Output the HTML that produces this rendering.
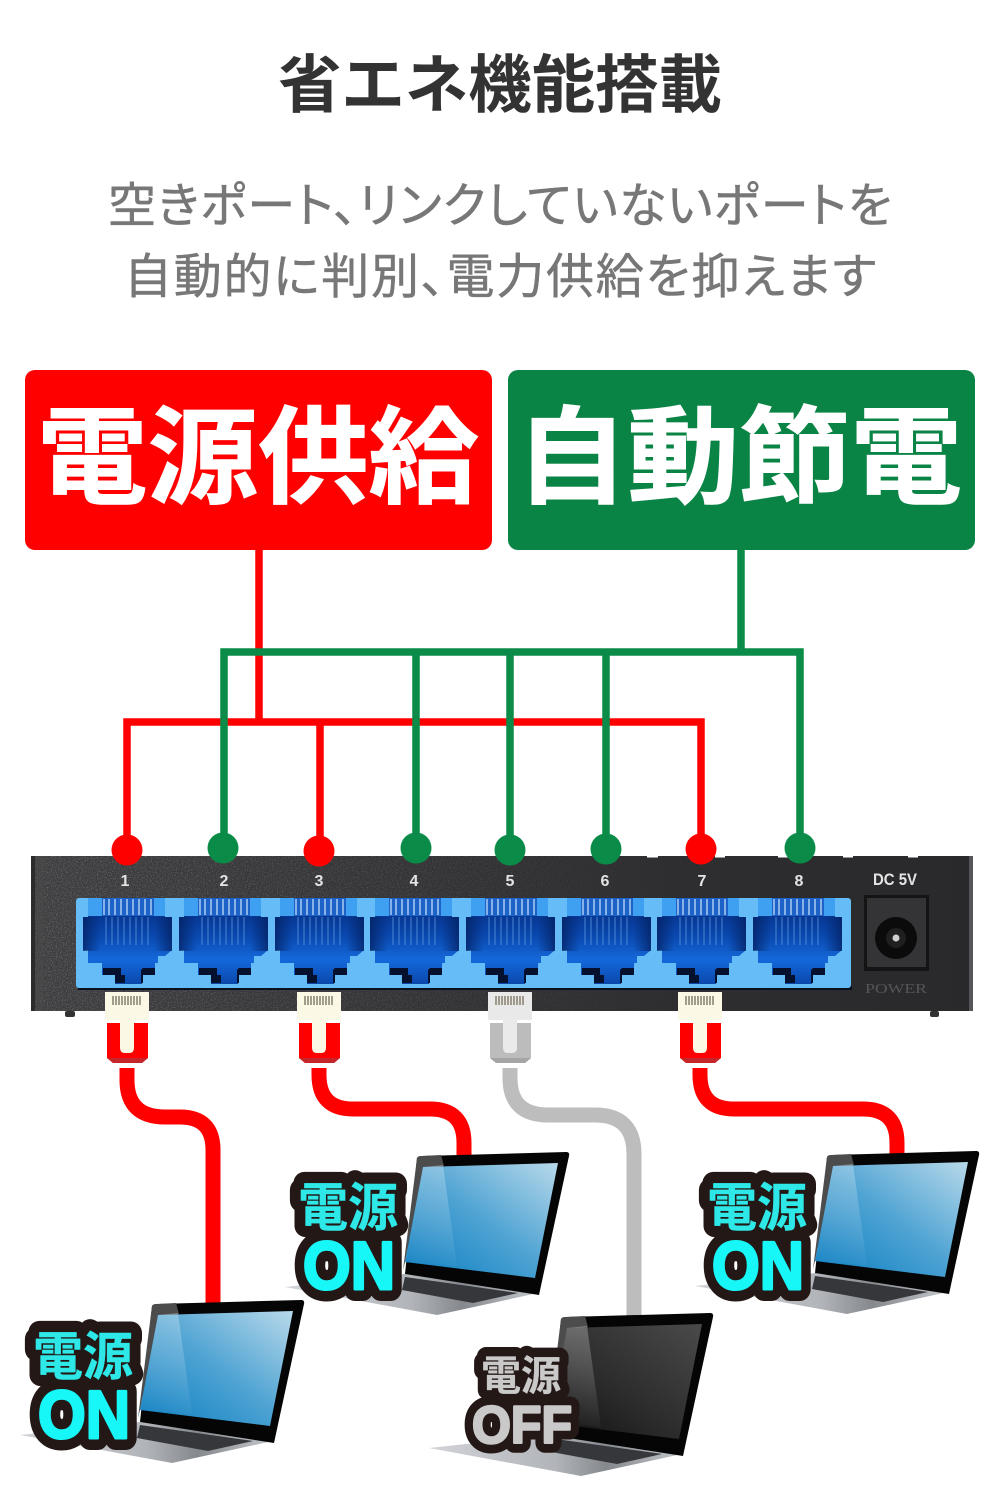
<!DOCTYPE html>
<html lang="ja">
<head>
<meta charset="utf-8">
<title>省エネ機能搭載</title>
<style>
html,body{margin:0;padding:0;background:#fff}
svg{display:block}
.jp{font-family:"Liberation Sans","Noto Sans CJK JP",sans-serif}
.lat{font-family:"Liberation Sans",sans-serif}
.palt{font-feature-settings:"palt" 1}
</style>
</head>
<body>
<svg width="1000" height="1500" viewBox="0 0 1000 1500" xmlns="http://www.w3.org/2000/svg">
<defs>
  <linearGradient id="portG" x1="0" y1="0" x2="0" y2="1">
    <stop offset="0" stop-color="#04287a"/><stop offset=".45" stop-color="#0a49b0"/><stop offset=".72" stop-color="#1468da"/><stop offset="1" stop-color="#0a48ac"/>
  </linearGradient>
  <linearGradient id="portS" x1="0" y1="0" x2="1" y2="0">
    <stop offset="0" stop-color="#03205f" stop-opacity=".75"/><stop offset=".2" stop-color="#03205f" stop-opacity="0"/><stop offset=".8" stop-color="#03205f" stop-opacity="0"/><stop offset="1" stop-color="#03205f" stop-opacity=".75"/>
  </linearGradient>
  <linearGradient id="scrBlue" x1="1" y1="0" x2="0" y2="1">
    <stop offset="0" stop-color="#b8d9ea"/><stop offset=".5" stop-color="#4ea3d3"/><stop offset="1" stop-color="#0a7dc0"/>
  </linearGradient>
  <linearGradient id="scrDark" x1="1" y1="0" x2="0" y2="1">
    <stop offset="0" stop-color="#4a4a4a"/><stop offset=".6" stop-color="#2a2a2a"/><stop offset="1" stop-color="#0e0e0e"/>
  </linearGradient>
  <linearGradient id="baseG" x1="0" y1="0" x2="1" y2="0">
    <stop offset="0" stop-color="#d2d4d8"/><stop offset=".5" stop-color="#b1b4b9"/><stop offset=".7" stop-color="#85898e"/><stop offset="1" stop-color="#c4c7cb"/>
  </linearGradient>
  <linearGradient id="sheenG" x1="0" y1="0" x2="0" y2="1">
    <stop offset="0" stop-color="#fff" stop-opacity=".28"/><stop offset="1" stop-color="#fff" stop-opacity=".03"/>
  </linearGradient>
  <linearGradient id="leftFade" x1="0" y1="0" x2="1" y2="0">
    <stop offset="0" stop-color="#3d3d3f"/><stop offset=".45" stop-color="#323234"/><stop offset="1" stop-color="#29292b"/>
  </linearGradient>
  <linearGradient id="noiseFade" x1="0" y1="0" x2="1" y2="0">
    <stop offset="0" stop-color="#fff" stop-opacity=".6"/><stop offset=".4" stop-color="#fff" stop-opacity=".35"/><stop offset=".7" stop-color="#fff" stop-opacity="0"/>
  </linearGradient>
  <mask id="noiseMask" maskUnits="userSpaceOnUse" x="31" y="856" width="942" height="155">
    <rect x="31" y="856" width="942" height="155" fill="url(#noiseFade)"/>
  </mask>
  <filter id="noise" x="0" y="0" width="100%" height="100%">
    <feTurbulence type="fractalNoise" baseFrequency=".8" numOctaves="2" seed="4"/>
    <feColorMatrix values="0 0 0 0 .6  0 0 0 0 .6  0 0 0 0 .6  0 0 0 1.4 -.62"/>
  </filter>

  <g id="port">
    <path d="M-38 898H38V917H45V950L38 956H31V963H28V975H15V984H-12V975H-25V963H-39V950H-44V917H-39Z" fill="url(#portG)"/>
    <rect x="-44" y="917" width="89" height="34" fill="url(#portS)"/>
    <rect x="-39" y="898" width="77" height="18" fill="#3f9ff0"/>
    <rect x="-25" y="898" width="52" height="18" fill="#1d62c6"/>
    <path d="M-23 899V915M-18 899V915M-12 899V915M-6 899V915M0 899V915M6 899V915M12 899V915M18 899V915M24 899V915" stroke="#a9cdf2" stroke-width="1.5"/>
    <path d="M-21 917V945M-15 917V945M-9 917V945M-3 917V945M3 917V945M9 917V945M15 917V945M21 917V945" stroke="#4f8edb" stroke-width="1.3" opacity=".7"/>
    <path d="M-24 968H-6V975H-2V983H-12V975H-24Z" fill="#04112e"/>
    <path d="M16 968H28V975H16V983H14V970Z" fill="#04112e"/>
  </g>

  <g id="pins">
    <path d="M113 996V1005M116 996V1005M119 996V1005M122 996V1005M125 996V1005M128 996V1005M131 996V1005M134 996V1005M137 996V1005M140 996V1005" stroke="#8d8775" stroke-width="1.6"/>
  </g>

  <g id="plugRed">
    <rect x="105" y="992" width="44" height="28" fill="#fbf8e6"/>
    <path d="M107 1023H148V1058L142 1063H113L107 1058Z" fill="#ff0000"/>
    <path d="M107 1058H148L142 1063H113Z" fill="#c4262a"/>
    <path d="M120 1018H134V1048Q134 1053 129 1053H125Q120 1053 120 1048Z" fill="#fbf8e6"/>
    <use href="#pins"/>
  </g>
  <g id="plugGray">
    <rect x="105" y="992" width="44" height="28" fill="#e9e9e9"/>
    <path d="M107 1023H148V1058L142 1063H113L107 1058Z" fill="#bcbcbc"/>
    <path d="M107 1058H148L142 1063H113Z" fill="#a5a5a5"/>
    <path d="M120 1018H134V1048Q134 1053 129 1053H125Q120 1053 120 1048Z" fill="#eaeaea"/>
    <use href="#pins"/>
  </g>

  <g id="lap">
    <path d="M285 1287L405 1274L538 1293L437 1315Z" fill="url(#baseG)"/>
    <path d="M405 1277L518 1293L473 1303L402 1290Z" fill="#35373a"/>
    <path d="M417 1158Q418 1156 422 1156L566 1152Q570 1152 569 1156L539 1295L405 1274Z" fill="#050505"/>
    <path d="M417 1158Q418 1156 422 1156L441 1155L444 1166L423 1168L405 1262L403 1270Z" fill="#4c4c4c"/>
  </g>
  <polygon id="scrShape" points="423,1167 558,1163 535,1278 405,1262"/>
  <polygon id="sheen" points="423,1167 443,1165 457,1266 405,1262" fill="url(#sheenG)"/>
</defs>

<rect width="1000" height="1500" fill="#fff"/>

<!-- headings -->
<text class="jp" x="500" y="107" text-anchor="middle" font-size="63" font-weight="700" fill="#333" textLength="444" lengthAdjust="spacingAndGlyphs">省エネ機能搭載</text>
<text class="jp palt" x="108" y="222" font-size="48" fill="#777" stroke="#777" stroke-width=".5" textLength="784" lengthAdjust="spacing">空きポート、リンクしていないポートを</text>
<text class="jp palt" x="124" y="293" font-size="48" fill="#777" stroke="#777" stroke-width=".5" textLength="752" lengthAdjust="spacing">自動的に判別、電力供給を抑えます</text>

<!-- boxes -->
<rect x="25" y="370" width="467" height="180" rx="10" fill="#ff0000"/>
<rect x="508" y="370" width="467" height="180" rx="10" fill="#0a8445"/>
<text class="jp" x="37" y="495" font-size="106" font-weight="700" fill="#fff" stroke="#fff" stroke-width="1" textLength="442" lengthAdjust="spacingAndGlyphs">電源供給</text>
<text class="jp" x="516" y="495" font-size="106" font-weight="700" fill="#fff" stroke="#fff" stroke-width="1" textLength="446" lengthAdjust="spacingAndGlyphs">自動節電</text>

<!-- switch -->
<rect x="31" y="856" width="942" height="155" fill="url(#leftFade)"/>
<g mask="url(#noiseMask)"><rect x="31" y="856" width="942" height="155" filter="url(#noise)"/></g>
<rect x="31" y="856" width="4" height="155" fill="#2c2c2c"/>
<rect x="36" y="856" width="7" height="155" fill="#4a4a4a" opacity=".6"/>
<rect x="969" y="856" width="4" height="155" fill="#55565a"/>
<rect x="65" y="1011" width="10" height="6" rx="2" fill="#333"/>
<rect x="930" y="1011" width="9" height="6" rx="2" fill="#333"/>
<g fill="#fff">
  <rect x="647" y="855" width="11" height="2.5"/><rect x="715" y="855" width="10" height="2.5"/><rect x="778" y="855" width="10" height="2.5"/>
  <rect x="843" y="855" width="10" height="2.5"/><rect x="908" y="855" width="10" height="2.5"/>
</g>

<rect x="78" y="986" width="774" height="4" fill="#07111f"/>
<rect x="76" y="898" width="775" height="90" rx="3" fill="#66bcf6"/>
<use href="#port" x="127"/>
<use href="#port" x="223"/>
<use href="#port" x="319"/>
<use href="#port" x="414"/>
<use href="#port" x="510"/>
<use href="#port" x="606"/>
<use href="#port" x="701"/>
<use href="#port" x="797"/>

<g class="lat" font-size="16" font-weight="700" fill="#e4e4e4" text-anchor="middle">
  <text x="125" y="886">1</text><text x="224" y="886">2</text><text x="319" y="886">3</text><text x="414" y="886">4</text>
  <text x="510" y="886">5</text><text x="605" y="886">6</text><text x="702" y="886">7</text><text x="799" y="886">8</text>
</g>
<text class="lat" x="895" y="885" font-size="17" font-weight="700" fill="#e4e4e4" text-anchor="middle" textLength="44" lengthAdjust="spacingAndGlyphs">DC 5V</text>

<rect x="864" y="895" width="65" height="76" fill="#141415"/>
<rect x="867" y="898" width="59" height="69" fill="#343436"/>
<circle cx="896" cy="938" r="21" fill="#0b0b0b"/>
<circle cx="896" cy="938" r="10" fill="#1f1f1f"/>
<circle cx="896" cy="938" r="3.5" fill="#cfcfcf"/>
<text x="896" y="993" font-family="'Liberation Serif',serif" font-size="14" fill="#555557" text-anchor="middle" textLength="62" lengthAdjust="spacingAndGlyphs">POWER</text>

<!-- connectors: red below green -->
<g fill="none" stroke-width="7.5">
  <path d="M259 550V722M127 850V722H701V850M320 722V850" stroke="#ff0000"/>
  <path d="M741 550V652M224 848V652H800V848M416 652V848M510 652V850M606 652V849" stroke="#0a8c48"/>
</g>
<g fill="#ff0000"><circle cx="127" cy="850" r="15.5"/><circle cx="319" cy="851" r="15.5"/><circle cx="701" cy="849" r="15.5"/></g>
<g fill="#0a8c48"><circle cx="223" cy="848" r="15.5"/><circle cx="416" cy="848" r="15.5"/><circle cx="510" cy="850" r="15.5"/><circle cx="606" cy="849" r="15.5"/><circle cx="800" cy="848" r="15.5"/></g>

<!-- plugs -->
<use href="#plugRed"/>
<use href="#plugRed" x="192"/>
<use href="#plugGray" x="383"/>
<use href="#plugRed" x="573"/>

<!-- cables -->
<g fill="none" stroke-width="15">
  <path d="M127 1068V1080Q127 1117 165 1117H180Q213 1117 213 1150V1310" stroke="#ff0000"/>
  <path d="M319 1068V1075Q319 1109 353 1109H430Q464 1109 464 1143V1160" stroke="#ff0000"/>
  <path d="M510 1068V1078Q510 1115 548 1115H595Q634 1115 634 1154V1320" stroke="#bdbdbd"/>
  <path d="M700 1068V1075Q700 1109 734 1109H863Q897 1109 897 1143V1160" stroke="#ff0000"/>
</g>

<!-- laptops -->
<g transform="translate(-265,148)"><use href="#lap"/><use href="#scrShape" fill="url(#scrBlue)"/><use href="#sheen"/></g>
<use href="#lap"/><use href="#scrShape" fill="url(#scrBlue)"/><use href="#sheen"/>
<g transform="translate(410,-1)"><use href="#lap"/><use href="#scrShape" fill="url(#scrBlue)"/><use href="#sheen"/></g>
<g transform="translate(144,161)"><use href="#lap"/><use href="#scrShape" fill="url(#scrDark)"/><use href="#sheen"/></g>

<!-- badges -->
<g stroke-linejoin="round">
  <text class="jp" x="348" y="1226" text-anchor="middle" font-size="52" font-weight="700" fill="#231815" stroke="#231815" stroke-width="23" textLength="100" lengthAdjust="spacingAndGlyphs">電源</text>
  <text class="lat" x="349" y="1289" text-anchor="middle" font-size="68" font-weight="700" fill="#231815" stroke="#231815" stroke-width="24" textLength="92" lengthAdjust="spacingAndGlyphs">ON</text>
  <text class="jp" x="348" y="1226" text-anchor="middle" font-size="52" font-weight="700" fill="#2ee8e8" stroke="#2ee8e8" stroke-width=".4" textLength="100" lengthAdjust="spacingAndGlyphs">電源</text>
  <text class="lat" x="349" y="1289" text-anchor="middle" font-size="68" font-weight="700" fill="#18f7f8" stroke="#18f7f8" stroke-width="3" textLength="92" lengthAdjust="spacingAndGlyphs">ON</text>
</g>
<g stroke-linejoin="round" transform="translate(-265,149)">
  <text class="jp" x="348" y="1226" text-anchor="middle" font-size="52" font-weight="700" fill="#231815" stroke="#231815" stroke-width="23" textLength="100" lengthAdjust="spacingAndGlyphs">電源</text>
  <text class="lat" x="349" y="1289" text-anchor="middle" font-size="68" font-weight="700" fill="#231815" stroke="#231815" stroke-width="24" textLength="92" lengthAdjust="spacingAndGlyphs">ON</text>
  <text class="jp" x="348" y="1226" text-anchor="middle" font-size="52" font-weight="700" fill="#2ee8e8" stroke="#2ee8e8" stroke-width=".4" textLength="100" lengthAdjust="spacingAndGlyphs">電源</text>
  <text class="lat" x="349" y="1289" text-anchor="middle" font-size="68" font-weight="700" fill="#18f7f8" stroke="#18f7f8" stroke-width="3" textLength="92" lengthAdjust="spacingAndGlyphs">ON</text>
</g>
<g stroke-linejoin="round" transform="translate(409,0)">
  <text class="jp" x="348" y="1226" text-anchor="middle" font-size="52" font-weight="700" fill="#231815" stroke="#231815" stroke-width="23" textLength="100" lengthAdjust="spacingAndGlyphs">電源</text>
  <text class="lat" x="349" y="1289" text-anchor="middle" font-size="68" font-weight="700" fill="#231815" stroke="#231815" stroke-width="24" textLength="92" lengthAdjust="spacingAndGlyphs">ON</text>
  <text class="jp" x="348" y="1226" text-anchor="middle" font-size="52" font-weight="700" fill="#2ee8e8" stroke="#2ee8e8" stroke-width=".4" textLength="100" lengthAdjust="spacingAndGlyphs">電源</text>
  <text class="lat" x="349" y="1289" text-anchor="middle" font-size="68" font-weight="700" fill="#18f7f8" stroke="#18f7f8" stroke-width="3" textLength="92" lengthAdjust="spacingAndGlyphs">ON</text>
</g>
<g stroke-linejoin="round">
  <text class="jp" x="521" y="1390" text-anchor="middle" font-size="41" font-weight="700" fill="#231815" stroke="#231815" stroke-width="19" textLength="80" lengthAdjust="spacingAndGlyphs">電源</text>
  <text class="lat" x="522" y="1443" text-anchor="middle" font-size="53" font-weight="700" fill="#231815" stroke="#231815" stroke-width="20" textLength="100" lengthAdjust="spacingAndGlyphs">OFF</text>
  <text class="jp" x="521" y="1390" text-anchor="middle" font-size="41" font-weight="700" fill="#c9c9c9" stroke="#c9c9c9" stroke-width=".3" textLength="80" lengthAdjust="spacingAndGlyphs">電源</text>
  <text class="lat" x="522" y="1443" text-anchor="middle" font-size="53" font-weight="700" fill="#c9c9c9" stroke="#c9c9c9" stroke-width="2.5" textLength="100" lengthAdjust="spacingAndGlyphs">OFF</text>
</g>
</svg>
</body>
</html>
